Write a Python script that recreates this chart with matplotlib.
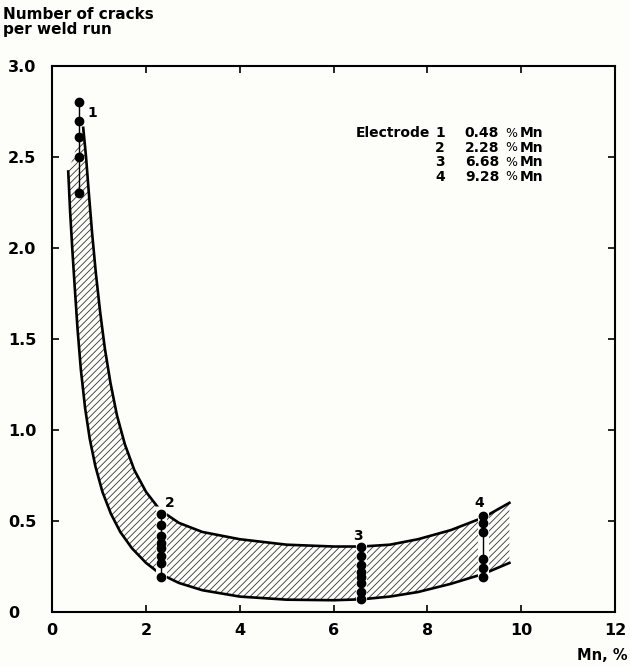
import numpy as np
import matplotlib.pyplot as plt

plt.rcParams["font.family"] = ["DejaVu Sans"]
plt.rcParams["font.weight"] = "bold"
plt.rcParams["hatch.linewidth"] = 0.6
plt.rcParams["hatch.color"] = "#333333"

# band boundaries
upper_x = [0.66, 0.72, 0.78, 0.85, 0.93, 1.02, 1.12, 1.24, 1.38, 1.55, 1.75, 2.0, 2.3, 2.7, 3.2, 4.0, 5.0, 6.0, 6.6, 7.2, 7.8, 8.5, 9.2, 9.75]
upper_y = [2.66, 2.50, 2.30, 2.08, 1.86, 1.65, 1.45, 1.26, 1.08, 0.92, 0.78, 0.66, 0.56, 0.49, 0.44, 0.40, 0.37, 0.36, 0.36, 0.37, 0.40, 0.45, 0.52, 0.60]
lower_x = [0.34, 0.38, 0.43, 0.48, 0.54, 0.61, 0.70, 0.80, 0.92, 1.07, 1.25, 1.45, 1.7, 2.0, 2.3, 2.7, 3.2, 4.0, 5.0, 6.0, 6.6, 7.2, 7.8, 8.5, 9.2, 9.75]
lower_y = [2.42, 2.20, 1.98, 1.78, 1.55, 1.33, 1.12, 0.95, 0.80, 0.66, 0.54, 0.44, 0.35, 0.27, 0.21, 0.16, 0.12, 0.085, 0.068, 0.065, 0.07, 0.085, 0.11, 0.155, 0.21, 0.27]

# measured points per electrode
electrodes = ["1", "2", "3", "4"]
mn_content = ["0.48", "2.28", "6.68", "9.28"]
elec_x = [0.58, 2.31, 6.58, 9.19]
elec_y = [
    [2.80, 2.70, 2.61, 2.50, 2.30],
    [0.54, 0.48, 0.42, 0.38, 0.35, 0.31, 0.27, 0.19],
    [0.36, 0.31, 0.26, 0.22, 0.19, 0.16, 0.11, 0.07],
    [0.53, 0.49, 0.44, 0.29, 0.24, 0.19],
]
label_pos = [(0.85, 2.74), (2.5, 0.6), (6.52, 0.42), (9.1, 0.6)]

bg = "#fdfdf9"
fig = plt.figure(figsize=(6.3, 6.66), dpi=100, facecolor=bg)
ax = fig.add_axes([0.083, 0.081, 0.893, 0.82], facecolor=bg)

# hatched band
poly_x = upper_x + lower_x[::-1]
poly_y = upper_y + lower_y[::-1]
ax.fill(poly_x, poly_y, facecolor="none", edgecolor="#333333", hatch="/////", linewidth=0, zorder=1)
ax.plot(upper_x, upper_y, color="black", lw=1.9, zorder=2)
ax.plot(lower_x, lower_y, color="black", lw=1.9, zorder=2)

for i, (x, ys) in enumerate(zip(elec_x, elec_y)):
    if i > 0:
        # gap in the band around the dot column
        ax.plot([x, x], [min(ys) - 0.04, max(ys) + 0.04], color=bg, lw=8, zorder=3, solid_capstyle="butt")
    ax.plot([x, x], [min(ys), max(ys)], color="black", lw=1, zorder=4)
    ax.plot([x] * len(ys), ys, "o", color="black", ms=6, zorder=5)
    ax.text(label_pos[i][0], label_pos[i][1], electrodes[i], fontsize=10, ha="center", va="center", zorder=6)

# electrode table
rows_y = [2.63, 2.55, 2.47, 2.39]
for i in range(4):
    if i == 0:
        ax.text(8.05, rows_y[i], "Electrode", fontsize=10, ha="right", va="center")
    ax.text(8.27, rows_y[i], electrodes[i], fontsize=10, ha="center", va="center")
    ax.text(8.8, rows_y[i], mn_content[i], fontsize=10, ha="left", va="center")
    ax.text(9.66, rows_y[i], "%", fontsize=9, ha="left", va="center", fontweight="normal")
    ax.text(9.98, rows_y[i], "Mn", fontsize=10, ha="left", va="center")

ax.set_xlim(0, 12)
ax.set_ylim(0, 3.0)
ax.set_xticks(np.arange(0, 13, 2))
ax.set_xticklabels([str(v) for v in range(0, 13, 2)], fontsize=11.5)
yticks = np.arange(0, 3.01, 0.5)
ax.set_yticks(yticks)
ax.set_yticklabels(["0"] + [f"{v:.1f}" for v in yticks[1:]], fontsize=11.5, ha="left")
ax.tick_params(axis="both", direction="in", length=5, width=1.2, top=True, right=True)
ax.tick_params(axis="y", pad=32)
ax.tick_params(axis="x", pad=8)
for s in ax.spines.values():
    s.set_linewidth(1.5)

fig.text(0.005, 1 - 7 / 666, "Number of cracks\nper weld run", fontsize=11, ha="left", va="top", linespacing=1.0)
fig.text(0.996, 1 - 656 / 666, "Mn, %", fontsize=10.5, ha="right", va="center")

plt.savefig("out.png", dpi=100, facecolor=bg)
